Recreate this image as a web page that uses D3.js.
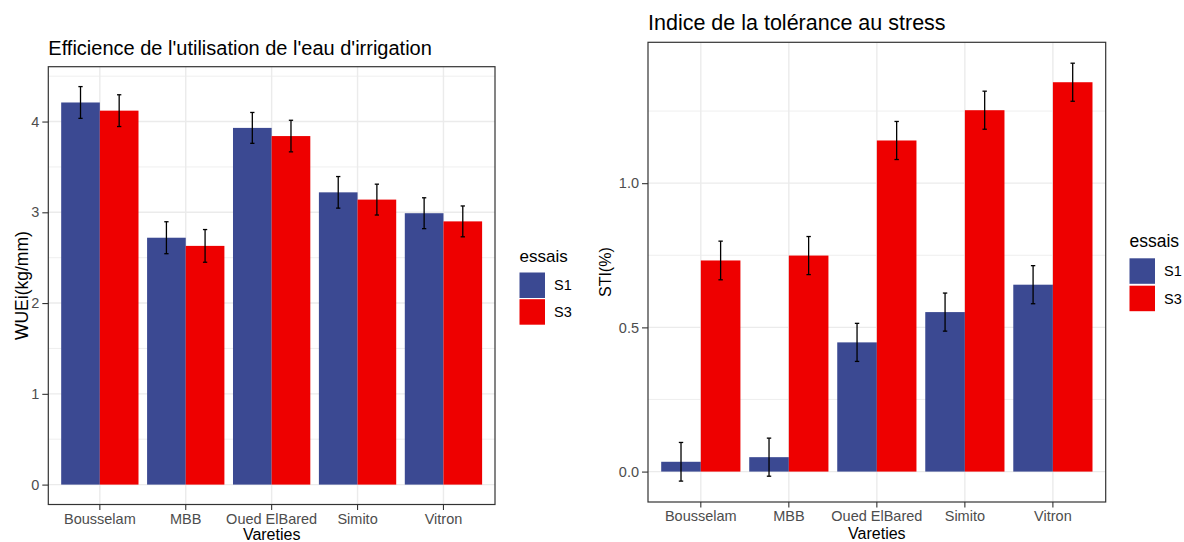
<!DOCTYPE html>
<html>
<head>
<meta charset="utf-8">
<script src="https://cdn.jsdelivr.net/npm/d3@7"></script>
<style>
  html, body { margin: 0; padding: 0; background: #fff; }
  svg { display: block; font-family: "Liberation Sans", Arial, sans-serif; }
</style>
</head>
<body>
<svg id="chart" width="1184" height="542"></svg>
<script>
// Varieties and trials
const varieties = ["Bousselam", "MBB", "Oued ElBared", "Simito", "Vitron"];
const essais = ["S1", "S3"];

// Irrigation water use efficiency (kg/mm), means and standard errors
const wueS1 = [4.21, 2.72, 3.93, 3.22, 2.99];
const wueS3 = [4.12, 2.63, 3.84, 3.14, 2.90];
const wueSeS1 = [0.175, 0.176, 0.17, 0.174, 0.17];
const wueSeS3 = [0.175, 0.18, 0.174, 0.17, 0.17];

// Stress tolerance index, means and standard errors
const stiS1 = [0.034, 0.050, 0.448, 0.553, 0.648];
const stiS3 = [0.732, 0.749, 1.148, 1.253, 1.350];
const stiSeS1 = [0.067, 0.066, 0.066, 0.066, 0.066];
const stiSeS3 = [0.067, 0.066, 0.066, 0.066, 0.066];

// Tick values
const wueTicks = [0, 1, 2, 3, 4];
const wueMinor = [0.5, 1.5, 2.5, 3.5, 4.5];
const stiTicks = [0, 0.5, 1.0];
const stiMinor = [0.25, 0.75, 1.25];

const colors = { S1: "#3B4992", S3: "#EE0000" };

function rows(s1, s3, se1, se3) {
  const out = [];
  varieties.forEach((v, i) => {
    out.push({ variety: v, essai: "S1", value: s1[i], se: se1[i] });
    out.push({ variety: v, essai: "S3", value: s3[i], se: se3[i] });
  });
  return out;
}

const svg = d3.select("#chart");

function drawPanel(cfg) {
  const g = svg.append("g");
  const data = cfg.data;
  const lo = Math.min(0, d3.min(data, d => d.value - d.se));
  const hi = Math.max(0, d3.max(data, d => d.value + d.se));
  const pad = (hi - lo) * 0.05;

  const x = d3.scaleBand().domain(varieties)
    .range([cfg.left, cfg.right]).paddingInner(0.1).paddingOuter(0.15);
  const xs = d3.scaleBand().domain(essais).range([0, x.bandwidth()]);
  const y = d3.scaleLinear().domain([lo - pad, hi + pad]).range([cfg.bottom, cfg.top]);

  // grid
  g.append("g").selectAll("line.minor").data(cfg.minor).join("line")
    .attr("x1", cfg.left).attr("x2", cfg.right)
    .attr("y1", d => y(d)).attr("y2", d => y(d))
    .attr("stroke", "#EBEBEB").attr("stroke-width", 0.8);
  g.append("g").selectAll("line.major").data(cfg.ticks).join("line")
    .attr("x1", cfg.left).attr("x2", cfg.right)
    .attr("y1", d => y(d)).attr("y2", d => y(d))
    .attr("stroke", "#EBEBEB").attr("stroke-width", 1.4);
  g.append("g").selectAll("line.vmajor").data(varieties).join("line")
    .attr("x1", d => x(d) + x.bandwidth() / 2).attr("x2", d => x(d) + x.bandwidth() / 2)
    .attr("y1", cfg.top).attr("y2", cfg.bottom)
    .attr("stroke", "#EBEBEB").attr("stroke-width", 1.4);

  // bars
  g.append("g").selectAll("rect").data(data).join("rect")
    .attr("x", d => x(d.variety) + xs(d.essai))
    .attr("width", xs.bandwidth())
    .attr("y", d => Math.min(y(d.value), y(0)))
    .attr("height", d => Math.abs(y(0) - y(d.value)))
    .attr("fill", d => colors[d.essai]);

  // error bars
  const cap = x.step() * 0.025;
  const eb = g.append("g").attr("stroke", "#000").attr("stroke-width", 1.3).attr("fill", "none");
  data.forEach(d => {
    const cx = x(d.variety) + xs(d.essai) + xs.bandwidth() / 2;
    const y1 = y(d.value + d.se), y2 = y(d.value - d.se);
    eb.append("line").attr("x1", cx).attr("x2", cx).attr("y1", y1).attr("y2", y2);
    eb.append("line").attr("x1", cx - cap).attr("x2", cx + cap).attr("y1", y1).attr("y2", y1);
    eb.append("line").attr("x1", cx - cap).attr("x2", cx + cap).attr("y1", y2).attr("y2", y2);
  });

  // border
  g.append("rect").attr("x", cfg.left).attr("y", cfg.top)
    .attr("width", cfg.right - cfg.left).attr("height", cfg.bottom - cfg.top)
    .attr("fill", "none").attr("stroke", "#333333").attr("stroke-width", 1.2);

  // axes
  const xAxis = g.append("g").attr("transform", `translate(0,${cfg.bottom})`)
    .call(d3.axisBottom(x).tickSize(5.5).tickPadding(3.5));
  xAxis.select(".domain").remove();
  xAxis.selectAll(".tick line").attr("stroke", "#333333").attr("stroke-width", 1.1);
  xAxis.selectAll(".tick text").attr("fill", "#4D4D4D")
    .style("font-size", cfg.tickSize + "px").style("font-family", "Liberation Sans, Arial, sans-serif");

  const yAxis = g.append("g").attr("transform", `translate(${cfg.left},0)`)
    .call(d3.axisLeft(y).tickValues(cfg.ticks).tickFormat(cfg.fmt).tickSize(6).tickPadding(3));
  yAxis.select(".domain").remove();
  yAxis.selectAll(".tick line").attr("stroke", "#333333").attr("stroke-width", 1.1);
  yAxis.selectAll(".tick text").attr("fill", "#4D4D4D")
    .style("font-size", cfg.tickSize + "px").style("font-family", "Liberation Sans, Arial, sans-serif");

  // titles
  g.append("text").attr("x", cfg.left).attr("y", cfg.titleY)
    .style("font-size", cfg.titleSize + "px").attr("fill", "#000").text(cfg.title);
  g.append("text").attr("x", (cfg.left + cfg.right) / 2).attr("y", cfg.xTitleY)
    .attr("text-anchor", "middle").style("font-size", cfg.axisTitleSize + "px")
    .attr("fill", "#000").text("Vareties");
  g.append("text")
    .attr("transform", `translate(${cfg.yTitleX},${(cfg.top + cfg.bottom) / 2}) rotate(-90)`)
    .attr("text-anchor", "middle").attr("dy", "0.35em")
    .style("font-size", cfg.yTitleSize + "px").attr("fill", "#000").text(cfg.yTitle);

  // legend
  const lg = g.append("g").attr("transform", `translate(${cfg.legX},${cfg.legY})`);
  lg.append("text").attr("x", 0).attr("y", 0).style("font-size", cfg.legTitleSize + "px")
    .attr("fill", "#000").text("essais");
  essais.forEach((e, i) => {
    lg.append("rect").attr("x", 0).attr("y", cfg.legKeyY + i * cfg.legStep)
      .attr("width", cfg.legKey).attr("height", cfg.legKey).attr("fill", colors[e]);
    lg.append("text").attr("x", cfg.legKey + 9)
      .attr("y", cfg.legKeyY + i * cfg.legStep + cfg.legKey / 2)
      .attr("dy", "0.36em").style("font-size", cfg.legLabelSize + "px")
      .attr("fill", "#000").text(e);
  });
}

drawPanel({
  data: rows(wueS1, wueS3, wueSeS1, wueSeS3),
  left: 48.3, right: 495, top: 66.7, bottom: 504.5,
  ticks: wueTicks, minor: wueMinor, fmt: d3.format("d"),
  title: "Efficience de l'utilisation de l'eau d'irrigation", titleY: 55, titleSize: 20,
  yTitle: "WUEi(kg/mm)", yTitleX: 21.5, yTitleSize: 17.5,
  xTitleY: 540, axisTitleSize: 16, tickSize: 14.5,
  legX: 519.5, legY: 262, legTitleSize: 17, legKeyY: 10.5, legKey: 25.5, legStep: 26.7, legLabelSize: 14.5
});

drawPanel({
  data: rows(stiS1, stiS3, stiSeS1, stiSeS3),
  left: 648, right: 1105.7, top: 42.3, bottom: 502,
  ticks: stiTicks, minor: stiMinor, fmt: d3.format(".1f"),
  title: "Indice de la tolérance au stress", titleY: 29.5, titleSize: 21.5,
  yTitle: "STI(%)", yTitleX: 605, yTitleSize: 16,
  xTitleY: 539, axisTitleSize: 16, tickSize: 14.5,
  legX: 1129.5, legY: 247, legTitleSize: 17.5, legKeyY: 11.3, legKey: 25.5, legStep: 27.4, legLabelSize: 14.5
});
</script>
</body>
</html>
